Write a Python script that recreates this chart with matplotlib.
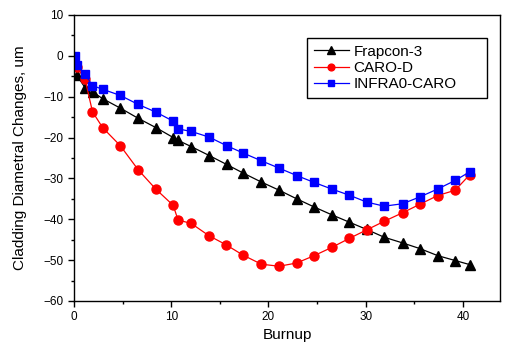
import numpy as np
import matplotlib
matplotlib.use('Agg')
import matplotlib.pyplot as plt
from matplotlib.ticker import MultipleLocator

plt.rcParams['font.family'] = ['Liberation Sans', 'DejaVu Sans']

# Frapcon-3
frap_x = [0.27, 1.13, 1.92, 2.95, 4.76, 6.6, 8.44, 10.2, 10.7, 12.04, 13.9, 15.7,
          17.4, 19.27, 21.1, 22.9, 24.7, 26.5, 28.3, 30.1, 31.9, 33.8, 35.6, 37.4, 39.2, 40.7]
frap_y = [-4.7, -7.8, -8.85, -10.5, -12.8, -15.3, -17.6, -20.0, -20.7, -22.2, -24.4, -26.6,
          -28.7, -30.9, -32.9, -35.0, -37.0, -38.9, -40.7, -42.5, -44.4, -45.8, -47.2, -48.9, -50.1, -51.1]

# CARO-D
caro_x = [0.27, 1.13, 1.9, 2.95, 4.76, 6.6, 8.4, 10.2, 10.7, 12.04, 13.86, 15.6,
          17.4, 19.27, 21.1, 22.9, 24.7, 26.5, 28.3, 30.1, 31.9, 33.8, 35.6, 37.4, 39.2, 40.7]
caro_y = [-2.8, -5.7, -13.7, -17.6, -22.0, -27.9, -32.6, -36.6, -40.2, -41.0, -44.0, -46.2,
          -48.8, -51.0, -51.5, -50.7, -48.9, -46.9, -44.7, -42.6, -40.5, -38.4, -36.3, -34.2, -32.9, -29.1]

# INFRA0-CARO
infra_x = [0.1, 0.27, 1.13, 1.9, 2.95, 4.76, 6.6, 8.44, 10.2, 10.7, 12.04, 13.9, 15.7,
           17.4, 19.27, 21.1, 22.9, 24.7, 26.5, 28.3, 30.1, 31.9, 33.8, 35.6, 37.4, 39.2, 40.7]
infra_y = [-0.1, -2.3, -4.5, -7.3, -8.2, -9.7, -11.9, -13.8, -16.0, -17.9, -18.5, -19.9, -22.0,
           -23.8, -25.7, -27.5, -29.3, -31.0, -32.6, -34.1, -35.8, -36.8, -36.2, -34.5, -32.6, -30.5, -28.4]

fig = plt.figure(figsize=(5.07, 3.47), dpi=100)
ax = fig.add_axes([0.146, 0.1326, 0.84, 0.8244])

ax.plot(frap_x, frap_y, color='black', lw=0.9, marker='^', ms=7, label='Frapcon-3')
ax.plot(caro_x, caro_y, color='red', lw=0.9, marker='o', ms=6.5, label='CARO-D')
ax.plot(infra_x, infra_y, color='blue', lw=0.9, marker='s', ms=6, label='INFRA0-CARO')

ax.set_xlim(0, 43.8)
ax.set_ylim(-60, 10)
ax.xaxis.set_major_locator(MultipleLocator(10))
ax.xaxis.set_minor_locator(MultipleLocator(5))
ax.yaxis.set_major_locator(MultipleLocator(10))
ax.yaxis.set_minor_locator(MultipleLocator(5))
ax.tick_params(which='both', direction='out', labelsize=8.5, width=1)
ax.tick_params(which='major', length=4)
ax.tick_params(which='minor', length=2.5)
for s in ax.spines.values():
    s.set_linewidth(1)

ax.set_xlabel('Burnup', fontsize=11, labelpad=3)
ax.set_ylabel('Cladding Diametral Changes, um', fontsize=11, labelpad=12)

leg = ax.legend(loc='upper left', bbox_to_anchor=(0.547, 0.703, 0.422, 0.217),
                mode='expand', borderaxespad=0,
                fontsize=11, fancybox=False, edgecolor='black', framealpha=1,
                handlelength=2.3, handletextpad=0.3, markerscale=0.75,
                labelspacing=0.15, borderpad=0.45)
leg.get_frame().set_linewidth(1)

fig.savefig('out.png', dpi=100)
